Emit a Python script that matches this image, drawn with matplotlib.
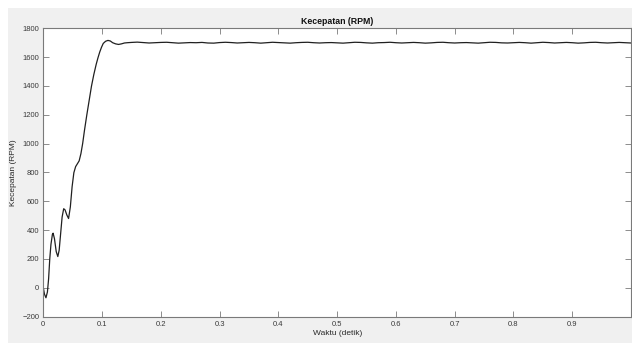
import matplotlib
matplotlib.use("Agg")
import matplotlib.pyplot as plt
from matplotlib.patches import Rectangle

# ---- data ----
t_transient = [0.000, 0.002, 0.0045, 0.007, 0.009, 0.011, 0.013, 0.0155, 0.0167, 0.019,
               0.022, 0.0247, 0.027, 0.030, 0.032, 0.0347, 0.037, 0.040, 0.043, 0.046,
               0.049, 0.052, 0.055, 0.058, 0.061, 0.064, 0.067, 0.070, 0.074, 0.078,
               0.082, 0.086, 0.090, 0.093, 0.096, 0.099, 0.102, 0.106, 0.110, 0.114,
               0.118, 0.123, 0.128, 0.133, 0.138, 0.143]
v_transient = [0, -45, -70, -30, 60, 200, 300, 370, 378, 340,
               250, 216, 260, 400, 490, 548, 540, 505, 480, 560,
               700, 798, 840, 860, 880, 930, 1001, 1090, 1198, 1300,
               1399, 1480, 1550, 1595, 1635, 1668, 1695, 1710, 1716, 1712,
               1700, 1692, 1688, 1692, 1698, 1700]

t_steady = [round(0.15 + 0.01 * i, 2) for i in range(86)]
v_steady = [1702, 1704, 1701, 1698, 1700, 1702, 1703, 1700, 1697, 1699,
            1701, 1700, 1702, 1698, 1697, 1701, 1703, 1701, 1698, 1700,
            1702, 1700, 1697, 1700, 1703, 1701, 1699, 1697, 1700, 1702,
            1703, 1700, 1698, 1700, 1701, 1699, 1697, 1700, 1703, 1702,
            1699, 1697, 1700, 1701, 1703, 1700, 1698, 1700, 1702, 1700,
            1697, 1699, 1702, 1703, 1700, 1698, 1700, 1701, 1699, 1697,
            1700, 1703, 1702, 1699, 1698, 1700, 1702, 1700, 1697, 1700,
            1703, 1701, 1698, 1700, 1702, 1700, 1697, 1699, 1702, 1703,
            1700, 1698, 1700, 1702, 1700, 1698]

t = t_transient + t_steady
v = v_transient + v_steady

x_ticks = [0, 0.1, 0.2, 0.3, 0.4, 0.5, 0.6, 0.7, 0.8, 0.9]
x_tick_labels = ["0", "0.1", "0.2", "0.3", "0.4", "0.5", "0.6", "0.7", "0.8", "0.9"]
y_ticks = [-200, 0, 200, 400, 600, 800, 1000, 1200, 1400, 1600, 1800]

title = "Kecepatan (RPM)"
xlabel = "Waktu (detik)"
ylabel = "Kecepatan (RPM)"

# ---- figure ----
plt.rcParams['font.family'] = ['Liberation Sans', 'DejaVu Sans']
fig = plt.figure(figsize=(6.32, 3.45), dpi=100, facecolor="white")
fig.patches.append(Rectangle((8 / 632, 2 / 345), 1 - 8 / 632, (337 - 2) / 345,
                             transform=fig.transFigure, facecolor="#f0f0f0",
                             edgecolor="none", zorder=-10))

ax = fig.add_axes([43.3 / 632, 28.5 / 345, (631 - 43.3) / 632, (316.5 - 28.3) / 345])
ax.set_facecolor("white")
ax.plot(t, v, color="#202020", lw=0.9)

ax.set_xlim(0, 1.0)
ax.set_ylim(-200, 1800)
ax.set_xticks(x_ticks)
ax.set_xticklabels(x_tick_labels)
ax.set_yticks(y_ticks)

for s in ax.spines.values():
    s.set_color("#7a7a7a")
    s.set_linewidth(0.8)
ax.tick_params(direction="in", length=4, width=0.6, color="#7a7a7a",
               labelsize=5.5, labelcolor="#3a3a3a", top=True, right=True, pad=3)

ax.set_title(title, fontsize=6.3, fontweight="bold", pad=3, color="#111111")
ax.set_xlabel(xlabel, fontsize=6, color="#2a2a2a", labelpad=2)
ax.set_ylabel(ylabel, fontsize=6, color="#2a2a2a", labelpad=4)

fig.savefig("out.png", dpi=100, facecolor=fig.get_facecolor())
